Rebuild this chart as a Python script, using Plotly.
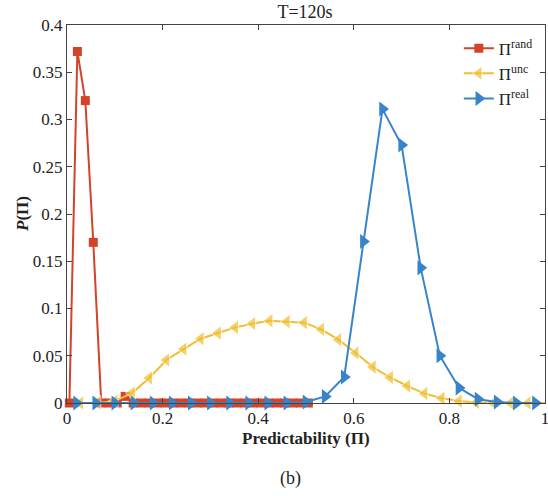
import plotly.graph_objects as go

# ---- data ----
rand_x = [0.005 + k / 60 for k in range(31)]
rand_y = [0, 0.372, 0.32, 0.17, 0, 0, 0, 0.007, 0, 0,
          0, 0, 0, 0, 0, 0, 0, 0, 0, 0,
          0, 0, 0, 0, 0, 0, 0, 0, 0, 0, 0]

unc_x = [round(0.028 + 0.036 * k, 3) for k in range(27)] + [1.0]
unc_y = [0, 0, 0.002, 0.0105, 0.0265, 0.0455, 0.057, 0.068, 0.074, 0.080,
         0.084, 0.087, 0.086, 0.085, 0.078, 0.067, 0.053, 0.038, 0.027, 0.018,
         0.010, 0.005, 0.002, 0.0005, 0, 0, 0, 0]

real_x = [round(0.02 + 0.04 * k, 2) for k in range(25)]
real_y = [0, 0, 0, 0, 0, 0, 0, 0, 0, 0,
          0, 0, 0.001, 0.007, 0.0276, 0.171, 0.311, 0.273, 0.143, 0.050,
          0.016, 0.004, 0.001, 0, 0]

x_ticks = [0, 0.2, 0.4, 0.6, 0.8, 1]
x_ticklabels = ["0", "0.2", "0.4", "0.6", "0.8", "1"]
y_ticks = [0, 0.05, 0.1, 0.15, 0.2, 0.25, 0.3, 0.35, 0.4]
y_ticklabels = ["0", "0.05", "0.1", "0.15", "0.2", "0.25", "0.3", "0.35", "0.4"]

RED = "#D2432A"
YELLOW = "#F0BE30"
BLUE = "#3884CB"
FONT = "Liberation Serif, Times New Roman, serif"

fig = go.Figure()
fig.add_trace(go.Scatter(
    x=rand_x, y=rand_y, mode="lines+markers", name="Π<sup>rand</sup>",
    line=dict(color=RED, width=2),
    marker=dict(symbol="square", size=9, color=RED),
    cliponaxis=False))
unc_sizes = [13] * (len(unc_x) - 1) + [0]
fig.add_trace(go.Scatter(
    x=unc_x, y=unc_y, mode="lines+markers", name="Π<sup>unc</sup>",
    line=dict(color=YELLOW, width=2),
    marker=dict(symbol="triangle-left", size=unc_sizes, color=YELLOW),
    cliponaxis=False))
fig.add_trace(go.Scatter(
    x=real_x, y=real_y, mode="lines+markers", name="Π<sup>real</sup>",
    line=dict(color=BLUE, width=2),
    marker=dict(symbol="triangle-right", size=13, color=BLUE),
    cliponaxis=False))

axis_common = dict(
    showgrid=False, zeroline=False, showline=True, linecolor="#444",
    linewidth=1, mirror="ticks", ticks="inside", ticklen=5,
    tickcolor="#444", tickfont=dict(family=FONT, size=17, color="#222"),
    automargin=False, ticklabeloverflow="allow",
)

fig.update_layout(
    width=548, height=496,
    margin=dict(l=67, r=3, t=25, b=93),
    paper_bgcolor="white", plot_bgcolor="white",
    font=dict(family=FONT, color="#222"),
    showlegend=True,
    legend=dict(x=0.985, y=0.985, xanchor="right", yanchor="top",
                bgcolor="rgba(0,0,0,0)", font=dict(family=FONT, size=17),
                tracegroupgap=0, itemwidth=30),
    xaxis=dict(range=[0, 1], tickvals=x_ticks, ticktext=x_ticklabels,
               **axis_common),
    yaxis=dict(range=[0, 0.4], tickvals=y_ticks, ticktext=y_ticklabels,
               **axis_common),
    title=dict(text="T=120s", x=305 / 548, xanchor="center",
               y=1 - 12 / 496, yanchor="middle",
               font=dict(family=FONT, size=18, color="#222")),
    annotations=[
        dict(text="<b>Predictability (Π)</b>", xref="paper", yref="paper",
             x=0.5, y=(403 - 438) / 378, showarrow=False,
             xanchor="center", yanchor="middle",
             font=dict(family=FONT, size=17, color="#222")),
        dict(text="<b><i>P</i>(Π)</b>", xref="paper", yref="paper",
             x=(22 - 67) / 478, y=0.5, showarrow=False, textangle=-90,
             xanchor="center", yanchor="middle",
             font=dict(family=FONT, size=17, color="#222")),
        dict(text="(b)", xref="paper", yref="paper",
             x=(290 - 67) / 478, y=(403 - 478) / 378, showarrow=False,
             xanchor="center", yanchor="middle",
             font=dict(family=FONT, size=18, color="#222")),
    ],
)

fig.write_html("out.html", config={"displayModeBar": False},
               post_script="document.body.style.margin='0';document.body.style.padding='0';")
